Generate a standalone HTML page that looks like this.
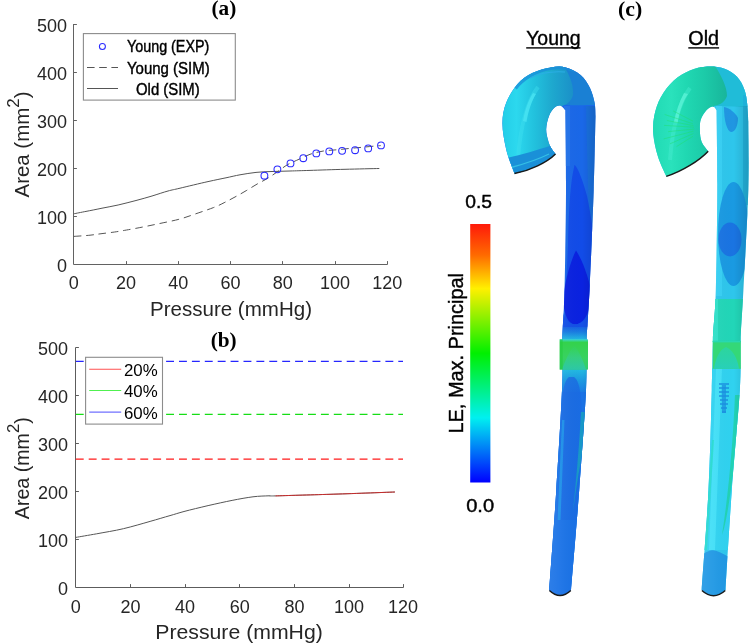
<!DOCTYPE html>
<html><head><meta charset="utf-8">
<style>
html,body{margin:0;padding:0;background:#fff;}
body{width:749px;height:644px;overflow:hidden;}
svg{display:block;will-change:transform;}
text{font-family:"Liberation Sans",sans-serif;fill:#262626;}
.cal{stroke:#000;stroke-width:0.4px;}
.serif{font-family:"Liberation Serif",serif;font-weight:bold;fill:#000;}
</style></head><body>
<svg width="749" height="644" viewBox="0 0 749 644">
<defs>
  <linearGradient id="jet" x1="0" y1="0" x2="0" y2="1">
    <stop offset="0" stop-color="#ff1a0a"/>
    <stop offset="0.12" stop-color="#ff6a00"/>
    <stop offset="0.25" stop-color="#fff000"/>
    <stop offset="0.5" stop-color="#00f000"/>
    <stop offset="0.75" stop-color="#00f0f0"/>
    <stop offset="1" stop-color="#0000ff"/>
  </linearGradient>
</defs>

<!-- ============ CHART A ============ -->
<g id="chartA">
  <text class="serif" x="211.5" y="15.4" font-size="21" textLength="24.8" lengthAdjust="spacingAndGlyphs">(a)</text>
  <!-- axes -->
  <path d="M73.5 24 V264.5 H387.5" fill="none" stroke="#626262" stroke-width="1"/>
  <path d="M73.5 24.5 h3.4 M73.5 72.5 h3.4 M73.5 120.5 h3.4 M73.5 168.5 h3.4 M73.5 216.5 h3.4
           M126.5 264.5 v-3.4 M178.5 264.5 v-3.4 M230.5 264.5 v-3.4 M282.5 264.5 v-3.4 M335.5 264.5 v-3.4 M387.5 264.5 v-3.4" stroke="#626262" stroke-width="1"/>
  <g font-size="18" text-anchor="end">
    <text x="67" y="32">500</text>
    <text x="67" y="80">400</text>
    <text x="67" y="128">300</text>
    <text x="67" y="176">200</text>
    <text x="67" y="224">100</text>
    <text x="67" y="272">0</text>
  </g>
  <g font-size="18" text-anchor="middle">
    <text x="73.75" y="289.3">0</text>
    <text x="126" y="289.3">20</text>
    <text x="178.3" y="289.3">40</text>
    <text x="230.5" y="289.3">60</text>
    <text x="282.8" y="289.3">80</text>
    <text x="335" y="289.3">100</text>
    <text x="387.3" y="289.3">120</text>
  </g>
  <text x="150" y="316" font-size="21" textLength="162" lengthAdjust="spacingAndGlyphs">Pressure (mmHg)</text>
  <text transform="translate(29.3 197.5) rotate(-90)" font-size="20.5" textLength="106" lengthAdjust="spacingAndGlyphs">Area (mm<tspan font-size="17" dy="-10">2</tspan><tspan dy="10">)</tspan></text>
  <!-- curves -->
  <path d="M73.8 213.8 C75.8 213.4 81.3 212.3 86.0 211.4 C90.7 210.5 96.7 209.3 102.0 208.2 C107.3 207.1 112.4 206.3 118.1 205.0 C123.8 203.7 130.3 202.0 136.0 200.5 C141.7 199.0 146.7 197.6 152.0 196.0 C157.3 194.4 163.3 192.3 168.0 191.0 C172.7 189.7 173.3 189.8 180.0 188.2 C186.7 186.6 200.3 183.3 208.0 181.6 C215.7 179.9 220.7 178.9 226.0 177.8 C231.3 176.7 235.0 175.7 240.0 174.8 C245.0 173.9 250.7 173.0 256.0 172.4 C261.3 171.8 266.3 171.7 272.0 171.5 C277.7 171.3 283.7 171.2 290.0 171.0 C296.3 170.8 300.8 170.7 310.0 170.4 C319.2 170.1 333.4 169.6 345.0 169.3 C356.6 169.0 373.6 168.6 379.3 168.5" fill="none" stroke="#555" stroke-width="1"/>
  <path d="M73.8 236.4 C76.5 236.2 85.3 235.7 90.0 235.2 C94.7 234.7 97.9 234.1 102.0 233.6 C106.1 233.1 111.2 232.5 114.7 232.0 C118.2 231.5 118.5 231.4 123.2 230.6 C127.9 229.8 136.8 228.2 142.8 227.0 C148.8 225.8 153.3 224.9 159.3 223.6 C165.3 222.3 172.9 220.9 178.9 219.3 C184.9 217.7 189.4 216.0 195.2 214.0 C201.0 212.0 208.8 209.4 213.7 207.5 C218.6 205.6 221.2 204.2 224.9 202.3 C228.6 200.5 232.4 198.4 236.1 196.4 C239.8 194.4 243.3 192.4 246.8 190.3 C250.3 188.2 253.9 185.9 257.2 184.0 C260.5 182.1 263.3 180.9 266.5 179.0 C269.7 177.1 273.0 174.8 276.5 172.4 C280.0 170.0 283.9 166.8 287.3 164.8 C290.7 162.8 292.9 162.1 296.7 160.3 C300.5 158.6 305.6 155.9 310.0 154.3 C314.4 152.8 318.9 151.8 323.4 151.0 C327.8 150.2 332.3 150.2 336.7 149.8 C341.1 149.4 345.8 148.8 350.0 148.4 C354.2 148.0 357.8 147.7 362.0 147.3 C366.2 146.9 372.3 146.3 375.4 146.0 C378.5 145.7 379.8 145.7 380.7 145.6" fill="none" stroke="#555" stroke-width="1" stroke-dasharray="7.6 4.8"/>
  <g fill="none" stroke="#2a2aff" stroke-width="1.05">
    <circle cx="264.4" cy="175.7" r="3.4"/>
    <circle cx="277.4" cy="169.3" r="3.4"/>
    <circle cx="290.5" cy="163.4" r="3.4"/>
    <circle cx="303.3" cy="158.2" r="3.4"/>
    <circle cx="316.3" cy="153.4" r="3.4"/>
    <circle cx="329.3" cy="151.4" r="3.4"/>
    <circle cx="342.1" cy="150.8" r="3.4"/>
    <circle cx="355.1" cy="150.2" r="3.4"/>
    <circle cx="368.2" cy="148.4" r="3.4"/>
    <circle cx="381" cy="145.4" r="3.4"/>
  </g>
  <!-- legend -->
  <rect x="83.4" y="33.6" width="151.9" height="66.5" fill="#fff" stroke="#8c8c8c" stroke-width="1.1"/>
  <circle cx="102.4" cy="46.5" r="3" fill="none" stroke="#2a2aff" stroke-width="1.05"/>
  <path d="M87 67.5 H118" stroke="#555" stroke-width="1" stroke-dasharray="7.6 4.6"/>
  <path d="M87 88.5 H118" stroke="#555" stroke-width="1"/>
  <g font-size="16" fill="#000">
    <text class="cal" x="127" y="52" textLength="82.3" lengthAdjust="spacingAndGlyphs" style="fill:#000">Young (EXP)</text>
    <text class="cal" x="127" y="74.2" textLength="82.7" lengthAdjust="spacingAndGlyphs" style="fill:#000">Young (SIM)</text>
    <text class="cal" x="136" y="95.2" textLength="63.7" lengthAdjust="spacingAndGlyphs" style="fill:#000">Old (SIM)</text>
  </g>
</g>

<!-- ============ CHART B ============ -->
<g id="chartB">
  <text class="serif" x="210.7" y="346.6" font-size="21" textLength="26" lengthAdjust="spacingAndGlyphs">(b)</text>
  <path d="M75.5 347.5 V587.5 H403.5" fill="none" stroke="#5c5c5c" stroke-width="1"/>
  <path d="M75.5 347.5 h3.4 M75.5 395.5 h3.4 M75.5 443.5 h3.4 M75.5 491.5 h3.4 M75.5 539.5 h3.4
           M130.5 587.5 v-3.4 M185.5 587.5 v-3.4 M239.5 587.5 v-3.4 M294.5 587.5 v-3.4 M349.5 587.5 v-3.4 M403.5 587.5 v-3.4" stroke="#5c5c5c" stroke-width="1"/>
  <g font-size="18" text-anchor="end">
    <text x="68" y="355.4">500</text>
    <text x="68" y="403.4">400</text>
    <text x="68" y="451.3">300</text>
    <text x="68" y="499.3">200</text>
    <text x="68" y="547.3">100</text>
    <text x="68" y="595.3">0</text>
  </g>
  <g font-size="18" text-anchor="middle">
    <text x="75.8" y="612.9">0</text>
    <text x="130.45" y="612.9">20</text>
    <text x="185.1" y="612.9">40</text>
    <text x="239.75" y="612.9">60</text>
    <text x="294.4" y="612.9">80</text>
    <text x="349.05" y="612.9">100</text>
    <text x="403.1" y="612.9">120</text>
  </g>
  <text x="155.3" y="638.9" font-size="21" textLength="167.5" lengthAdjust="spacingAndGlyphs">Pressure (mmHg)</text>
  <text transform="translate(28.9 519.2) rotate(-90)" font-size="20" textLength="102" lengthAdjust="spacingAndGlyphs">Area (mm<tspan font-size="17" dy="-10">2</tspan><tspan dy="10">)</tspan></text>
  <g stroke-width="1.2" stroke-dasharray="7.9 5" fill="none">
    <path d="M75.8 361.3 H403" stroke="#2626ff"/>
    <path d="M75.8 414.3 H403" stroke="#16dd16"/>
    <path d="M75.8 459.1 H403" stroke="#ff1a1a"/>
  </g>
  <path d="M75.8 537.4 C79.3 536.8 88.8 535.2 96.7 533.8 C104.6 532.3 114.5 530.8 123.4 528.7 C132.3 526.6 142.3 523.6 150.1 521.4 C157.9 519.2 164.3 517.2 170.0 515.6 C175.7 514.0 177.7 513.2 184.0 511.5 C190.3 509.8 200.1 507.5 208.1 505.6 C216.1 503.8 224.6 501.9 232.1 500.4 C239.6 498.9 246.8 497.6 253.0 496.8 C259.1 496.0 265.3 496.0 269.0 495.8 C272.7 495.6 265.2 496.1 275.4 495.9 C285.6 495.6 310.1 494.9 330.0 494.3 C349.9 493.7 384.1 492.4 394.9 492.0" fill="none" stroke="#555" stroke-width="1"/>
  <path d="M275.4 495.9 C284.5 495.6 310.1 494.9 330.0 494.3 C349.9 493.7 384.1 492.4 394.9 492.0" fill="none" stroke="#e02020" stroke-width="1" stroke-opacity="0.8"/>
  <rect x="85.6" y="357.3" width="76.9" height="66.8" fill="#fff" stroke="#8c8c8c" stroke-width="1.1"/>
  <path d="M89.2 369.3 H121.2" stroke="#ff5050" stroke-width="1.1"/>
  <path d="M89.2 390.5 H121.2" stroke="#50f050" stroke-width="1.1"/>
  <path d="M89.2 412.1 H121.2" stroke="#7070ff" stroke-width="1.1"/>
  <g font-size="17">
    <text x="124" y="376" textLength="33.7" lengthAdjust="spacingAndGlyphs" style="fill:#000">20%</text>
    <text x="124" y="397" textLength="33.7" lengthAdjust="spacingAndGlyphs" style="fill:#000">40%</text>
    <text x="124" y="418.6" textLength="33.7" lengthAdjust="spacingAndGlyphs" style="fill:#000">60%</text>
  </g>
</g>

<!-- ============ PANEL C ============ -->
<!--TUBES-->
<defs>
<clipPath id="clipY"><path d="M514.5 173.6 C513.1 169.6 508.2 157.8 506.2 149.4 C504.2 141.0 502.4 131.1 502.4 123.3 C502.4 115.5 503.7 109.3 506.2 102.8 C508.7 96.3 513.0 89.2 517.3 84.2 C521.6 79.2 526.6 75.8 532.2 73.0 C537.8 70.2 545.3 68.3 550.9 67.4 C556.5 66.5 560.8 66.2 565.8 67.4 C570.8 68.7 576.6 71.5 580.6 74.9 C584.6 78.3 587.7 83.2 590.0 87.9 C592.3 92.6 593.7 98.1 594.6 102.8 C595.5 107.5 595.4 113.7 595.5 115.9 L595.5 115.9 C595.2 128.2 594.7 161.0 593.7 190.0 C592.7 219.0 590.7 265.0 589.5 290.0 C588.3 315.0 587.3 323.3 586.7 340.0 C586.1 356.7 587.2 365.0 586.0 390.0 C584.8 415.0 581.7 456.7 579.2 490.0 C576.7 523.3 572.4 573.3 571.0 590.0 Q560.0 601.0 549.2 590.0 L549.2 590.0 C550.4 573.3 554.2 523.3 556.3 490.0 C558.4 456.7 561.0 415.0 562.0 390.0 C563.0 365.0 561.9 356.7 562.3 340.0 C562.7 323.3 563.9 315.0 564.5 290.0 C565.1 265.0 565.9 219.9 566.0 190.0 C566.1 160.1 565.5 123.6 565.4 110.3 L565.4 110.3 C564.5 109.5 562.0 106.1 560.2 105.6 C558.4 105.1 556.5 105.8 554.6 107.5 C552.7 109.2 550.4 112.3 549.0 115.9 C547.6 119.5 546.4 124.9 546.2 128.9 C546.0 132.9 547.2 136.9 548.0 140.0 C548.8 143.1 549.6 145.2 550.9 147.5 C552.1 149.8 554.7 152.9 555.5 154.0 C547.0 162.5 530.0 170.5 514.5 173.6 Z"/></clipPath>
<clipPath id="clipO"><path d="M666.3 176.4 C664.9 173.1 660.2 163.8 658.0 156.8 C655.8 149.8 653.9 141.3 653.3 134.5 C652.7 127.7 653.0 122.1 654.2 115.9 C655.5 109.7 657.5 103.1 660.8 97.2 C664.1 91.3 668.8 85.0 673.8 80.5 C678.8 76.0 684.9 72.5 690.5 70.2 C696.1 67.9 701.7 66.8 707.3 66.5 C712.9 66.2 719.0 66.7 724.0 68.4 C729.0 70.1 733.7 73.2 737.1 76.8 C740.5 80.4 742.8 85.1 744.5 89.8 C746.2 94.5 746.7 99.4 747.3 104.7 C747.9 110.0 748.1 118.6 748.3 121.4 L748.3 121.4 C748.3 132.8 749.1 161.9 748.3 190.0 C747.5 218.1 744.7 265.0 743.4 290.0 C742.1 315.0 741.2 323.3 740.6 340.0 C740.0 356.7 741.3 365.0 739.8 390.0 C738.3 415.0 734.2 456.7 731.8 490.0 C729.4 523.3 726.5 573.3 725.5 590.0 Q713.5 601.5 701.7 590.0 L701.7 590.0 C702.8 573.3 706.8 523.3 708.5 490.0 C710.2 456.7 711.1 415.0 711.8 390.0 C712.5 365.0 712.2 356.7 712.9 340.0 C713.6 323.3 715.1 315.0 715.8 290.0 C716.5 265.0 717.2 219.9 717.3 190.0 C717.4 160.1 716.7 123.6 716.6 110.3 L716.6 110.3 C716.0 109.7 714.6 106.5 712.9 106.5 C711.2 106.5 708.4 108.1 706.4 110.3 C704.4 112.5 701.9 116.2 700.8 119.6 C699.7 123.0 699.8 127.0 699.9 130.7 C700.0 134.4 700.3 138.5 701.7 141.9 C703.1 145.3 707.1 149.6 708.2 151.2 C699.5 160.5 682.0 171.5 666.3 176.4 Z"/></clipPath>
<linearGradient id="yArch" x1="500" y1="0" x2="575" y2="0" gradientUnits="userSpaceOnUse">
  <stop offset="0" stop-color="#22cce6"/>
  <stop offset="0.22" stop-color="#2cd8ee"/>
  <stop offset="0.45" stop-color="#22c2de"/>
  <stop offset="0.7" stop-color="#1ea8ce"/>
  <stop offset="1" stop-color="#1a8ec8"/>
</linearGradient>
<linearGradient id="oArch" x1="652" y1="0" x2="728" y2="0" gradientUnits="userSpaceOnUse">
  <stop offset="0" stop-color="#20dab4"/>
  <stop offset="0.25" stop-color="#2ae2bc"/>
  <stop offset="0.45" stop-color="#20d8b2"/>
  <stop offset="0.7" stop-color="#1ccaa8"/>
  <stop offset="1" stop-color="#18b49a"/>
</linearGradient>
<linearGradient id="cylY" x1="0" y1="0" x2="1" y2="0">
  <stop offset="0" stop-color="#fff" stop-opacity="0.10"/>
  <stop offset="0.3" stop-color="#fff" stop-opacity="0.04"/>
  <stop offset="0.7" stop-color="#000" stop-opacity="0.0"/>
  <stop offset="1" stop-color="#000" stop-opacity="0.14"/>
</linearGradient>
<linearGradient id="yTrans" x1="0" y1="324" x2="0" y2="340" gradientUnits="userSpaceOnUse">
  <stop offset="0" stop-color="#1450e6"/><stop offset="0.5" stop-color="#1a7ee2"/><stop offset="1" stop-color="#22bde2"/>
</linearGradient>
<linearGradient id="yBelow" x1="0" y1="369" x2="0" y2="392" gradientUnits="userSpaceOnUse">
  <stop offset="0" stop-color="#22bce2"/><stop offset="0.5" stop-color="#1c9ae2"/><stop offset="1" stop-color="#1a7ce4"/>
</linearGradient>
<linearGradient id="oTrans" x1="0" y1="280" x2="0" y2="300" gradientUnits="userSpaceOnUse">
  <stop offset="0" stop-color="#26b4ea"/><stop offset="0.3" stop-color="#30c6f0"/><stop offset="1" stop-color="#30cdf0"/>
</linearGradient>
<linearGradient id="yBand" x1="0" y1="339.3" x2="0" y2="369.6" gradientUnits="userSpaceOnUse">
  <stop offset="0" stop-color="#3ad8d0"/><stop offset="0.1" stop-color="#34d24c"/><stop offset="0.6" stop-color="#38d260"/><stop offset="1" stop-color="#30cc70"/>
</linearGradient>
<linearGradient id="yWedge" x1="0" y1="345" x2="0" y2="369.6" gradientUnits="userSpaceOnUse">
  <stop offset="0" stop-color="#30d080" stop-opacity="0"/><stop offset="0.5" stop-color="#34cc96" stop-opacity="0.6"/><stop offset="1" stop-color="#2cc6b4" stop-opacity="0.8"/>
</linearGradient>
<linearGradient id="oWedge" x1="0" y1="348" x2="0" y2="368.8" gradientUnits="userSpaceOnUse">
  <stop offset="0" stop-color="#2ad4a8" stop-opacity="0.8"/><stop offset="1" stop-color="#28d0b8"/>
</linearGradient>
</defs>
<g clip-path="url(#clipY)">
  <rect x="490" y="60" width="120" height="550" fill="#1a68e8"/>
  <!-- top-right of arch (blue) -->
  <path d="M550 55 H610 V106 C600 104 585 106 565 105 L550 100 Z" fill="#1a80d4"/>
  <path d="M583 60 C591 75 596 90 597 106 H610 V60 Z" fill="#1a70cc" fill-opacity="0.8"/>
  <!-- arch -->
  <path d="M490 55 H557 C567 70 574 82 573 95 C571 102 566 105 562 106 L562 200 H490 Z" fill="url(#yArch)"/>
  
  <path d="M538 87 C529 99 521 120 518 158" stroke="#40e0f0" stroke-width="4" stroke-opacity="0.4" fill="none"/><path d="M533 93 C528 101 525 110 523 121 L526.5 122 C528.5 111 531 102 536 94 Z" fill="#48e4f2" fill-opacity="0.8"/>
  <path d="M515 88 C522 79 535 70 552 67.5 C560 66.5 568 67.5 575 70" stroke="#1a8cd8" stroke-width="4.5" fill="none" stroke-opacity="0.75"/>
  <path d="M530 78 C540 73 552 71 565 72" stroke="#2aaee4" stroke-width="1.2" fill="none"/>
  <!-- end band -->
  <path d="M507 158 C520 155 538 150 551 145.5 L560 156 L514.5 182 Z" fill="#1a90d8"/>
  <path d="M511 167.5 C524 164 537 160 549 154" stroke="#34bee4" stroke-width="1.3" fill="none"/>
  <!-- vertical top strips -->
  <rect x="564" y="106" width="6" height="60" fill="#2676ea" fill-opacity="0.7"/>
  <path d="M586 106 H598 V260 H590 C589 220 587 150 586 106 Z" fill="#1a74dc" fill-opacity="0.7"/>
  <!-- patch1 -->
  <path d="M574.6 164.8 C571 180 569 200 568 245 L564 330 H596 V250 C593 230 590 210 587 196 C583 181 578 168 574.6 164.8 Z" fill="#124ce8"/>
  <!-- patch2 -->
  <path d="M576 250.5 C570 262 564 285 563 300 C564 316 569 324.4 575 324.4 C582 324.4 589 316 591 300 L591 290 C587 272 581 258 576 250.5 Z" fill="#0a22e0"/>
  <rect x="550" y="324.4" width="50" height="16" fill="url(#yTrans)"/>
  <path d="M575 324.4 C569 324.4 563 318 563 310 L563 327 H590 V310 C588 318 582 324.4 575 324.4 Z" fill="#1450e6"/>
  <!-- green band -->
  
  <!-- below band -->
  <rect x="545" y="369" width="55" height="236" fill="url(#yBelow)"/>
  <rect x="545" y="392" width="55" height="213" fill="#1a72e6"/>
  <path d="M569 377 C564 381 562 392 561 420 L557 520 H577 L582 420 C582 394 579 380 574 377 Z" fill="#1a6ae2" fill-opacity="0.8"/>
  <path d="M562 420 L557.5 520 L560.5 520 L564.5 420 Z" fill="#20a0ea" fill-opacity="0.7"/>
  <path d="M586 412 L581 412 C579 450 576 480 573 512 C576 490 580 460 586 440 Z" fill="#1898c8"/>
  <path d="M564 106 H598 V600 H545 L549 590 L556.3 490 L562 390 L562.3 340 L564.5 290 L566 190 Z" fill="url(#cylY)"/>
</g>
<rect x="559.7" y="339.3" width="28.3" height="30.3" fill="url(#yBand)"/>
<path d="M574 345 C569 352 565 361 562 369.6 H586 C583 360 579 351 574 345 Z" fill="url(#yWedge)"/>
<rect x="559.7" y="339.3" width="3" height="30.3" fill="#24cc40" fill-opacity="0.6"/>
<path d="M555.5 154 C547 162.5 530 170.5 514.5 173.6" stroke="#1a1a1a" stroke-width="1.5" fill="none"/>
<path d="M549.4 590.5 Q560 600.5 570.8 590.5" stroke="#1a1a1a" stroke-width="1.4" fill="none"/>
<g clip-path="url(#clipO)">
  <rect x="640" y="60" width="110" height="550" fill="#2ec6ec"/>
  <path d="M700 55 H760 V108 C750 106 735 107 717 106 L700 100 Z" fill="#20bcd8"/>
  <path d="M735 60 C742 75 747 90 749 106 H760 V60 Z" fill="#1cacd0"/>
  <!-- arch teal -->
  <path d="M640 55 H708 C718 70 727 84 727 96 C725 102 720 105 714 106 L714 200 H640 Z" fill="url(#oArch)"/>
  
  <path d="M690 88 C681 100 673 120 670 160" stroke="#48ecd0" stroke-width="4" stroke-opacity="0.45" fill="none"/><path d="M684 93 C679 102 676 112 674 122 L677.5 123 C679.5 112 682.5 102 688 94 Z" fill="#5af2d6" fill-opacity="0.8"/>
  <g stroke="#20e070" stroke-width="0.8" stroke-opacity="0.6" fill="none"><path d="M692.8 123.7 L664.7 114.5"/><path d="M693.3 125.6 L666.9 120.5"/><path d="M694.0 127.2 L664.1 125.4"/><path d="M694.1 129.1 L668.2 131.6"/><path d="M693.5 131.2 L663.7 138.9"/><path d="M693.4 133.5 L670.0 143.8"/><path d="M693.0 121.2 L673.1 110.9"/><path d="M692.9 136.3 L676.5 146.6"/></g>
  <rect x="743" y="95" width="12" height="110" fill="#20acd8" fill-opacity="0.7"/>
  <rect x="716" y="106" width="6" height="190" fill="#3ed6f8" fill-opacity="0.6"/>
  <!-- patches -->
  <path d="M724 107 C729 108 735 112 738 118 C738 126 735 132 731 132 C727 131 724 121 724 107 Z" fill="#2096e2"/>
  <ellipse cx="733.5" cy="234" rx="15.5" ry="52" fill="#1a9ae2"/>
  <ellipse cx="730" cy="239.5" rx="11.5" ry="17" fill="#1a74e2"/>
  
  
  <!-- teal zone -->
  <rect x="700" y="299" width="50" height="43" fill="#22d6b8"/>
  <rect x="712" y="299" width="6" height="43" fill="#30e0c8"/>
  <!-- green band -->
  
  <!-- lower cyan -->
  <rect x="695" y="368" width="55" height="182" fill="#30d2f0"/>
  <path d="M716 368 L709 550 H715 L722 368 Z" fill="#4ae4fa" fill-opacity="0.7"/>
  <path d="M712 440 L704 550 H707 L714 440 Z" fill="#22dcc2" fill-opacity="0.7"/>
  <path d="M740 395 L735 395 C733 440 729 490 722 535 C728 520 733 470 740 430 Z" fill="#22d2b4"/>
  <g fill="#1a90e2" fill-opacity="0.75">
    <rect x="719" y="383" width="10" height="2"/><rect x="719" y="387" width="10" height="2"/>
    <rect x="719" y="391" width="10" height="2"/><rect x="719" y="395" width="10" height="2"/>
    <rect x="720" y="399" width="8" height="2"/><rect x="720" y="403" width="8" height="2"/>
    <rect x="721" y="407" width="6" height="2"/><rect x="722" y="411" width="4" height="2"/>
    <rect x="722" y="385" width="4" height="28"/>
  </g>
  <!-- bottom blue -->
  <path d="M695 560 C705 552 710 550 714 550.4 C720 551 726 556 735 560 V605 H695 Z" fill="#2098e4"/>
  <path d="M716 106 H749 V600 H698 L701.7 590 L708.5 490 L711.8 390 L712.9 340 L715.8 290 L717.3 190 Z" fill="url(#cylY)"/>
</g>
<rect x="712.8" y="340.9" width="28" height="27.9" fill="#34d878"/>
<path d="M726 347 C720 350 716 356 714 368.8 H739 C737 356 732 350 726 347 Z" fill="url(#oWedge)"/>
<rect x="712.8" y="340.9" width="28" height="1.5" fill="#28d8b0"/>
<path d="M708.2 151.2 C699.5 160.5 682 171.5 666.3 176.4" stroke="#1a1a1a" stroke-width="1.5" fill="none"/>
<path d="M701.9 590.5 Q713.5 601 725.3 590.5" stroke="#1a1a1a" stroke-width="1.4" fill="none"/>
<!--/TUBES-->
<g id="panelC">
  <text class="serif" x="618" y="15.5" font-size="21" textLength="24.2" lengthAdjust="spacingAndGlyphs">(c)</text>
  <text class="cal" x="526.2" y="44.6" font-size="20" textLength="54.3" lengthAdjust="spacingAndGlyphs" style="fill:#000">Young</text>
  <rect x="526.2" y="47.2" width="54.3" height="1.4" fill="#000"/>
  <text class="cal" x="688.3" y="44.6" font-size="20" textLength="30.8" lengthAdjust="spacingAndGlyphs" style="fill:#000">Old</text>
  <rect x="688.3" y="47.2" width="30.8" height="1.4" fill="#000"/>
  <rect x="470.2" y="224" width="20.2" height="258.5" fill="url(#jet)"/>
  <text class="cal" x="465.3" y="207.9" font-size="18" textLength="26.8" lengthAdjust="spacingAndGlyphs" style="fill:#000">0.5</text>
  <text class="cal" x="466.2" y="511.6" font-size="18" textLength="27.9" lengthAdjust="spacingAndGlyphs" style="fill:#000">0.0</text>
  <text class="cal" transform="translate(462.5 433.5) rotate(-90)" font-size="20" textLength="160.5" lengthAdjust="spacingAndGlyphs" style="fill:#000">LE, Max. Principal</text>
</g>
</svg>
</body></html>
